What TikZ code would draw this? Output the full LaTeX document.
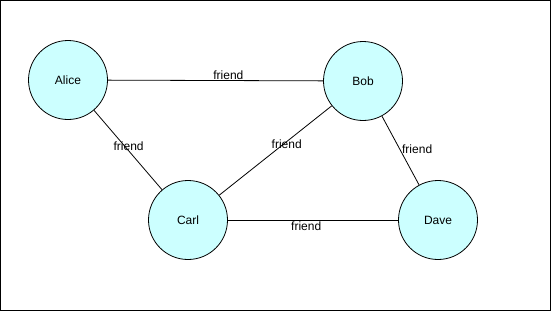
\documentclass[tikz,border=0pt]{standalone}
\usepackage{fontspec}
\setmainfont{Liberation Sans}
\definecolor{nodecyan}{HTML}{CCFFFF}
\begin{document}
\begin{tikzpicture}[x=1pt,y=-1pt,
  person/.style={circle,draw=black,fill=nodecyan,minimum size=79pt,inner sep=0pt,line width=0.8pt,font=\fontsize{12}{14}\selectfont},
  rel/.style={draw=black,line width=0.8pt},
  lbl/.style={font=\fontsize{12}{14}\selectfont,inner sep=1pt}]
\useasboundingbox (0,0) rectangle (551,311);
\draw[line width=1pt] (0.5,0.5) rectangle (550.5,310.5);
\node[person] (alice) at (68,80) {Alice};
\node[person] (bob) at (363,81) {Bob};
\node[person] (carl) at (188,220) {Carl};
\node[person] (dave) at (438,220) {Dave};
\draw[rel] (alice) -- node[lbl,pos=0.56,above] {friend} (bob);
\draw[rel] (alice) -- node[lbl,pos=0.45,xshift=4pt] {friend} (carl);
\draw[rel] (carl) -- node[lbl,pos=0.6,yshift=-3pt] {friend} (bob);
\draw[rel] (bob) -- node[lbl,pos=0.48,right,xshift=1pt] {friend} (dave);
\draw[rel] (carl) -- node[lbl,pos=0.46,below] {friend} (dave);
\end{tikzpicture}
\end{document}
